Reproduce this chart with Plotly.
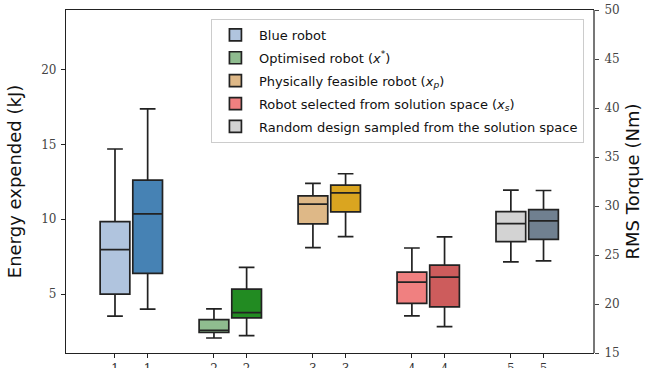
import plotly.graph_objects as go

# ---- data ----
groups = [1, 2, 3, 4, 5]
group_labels = ["1", "2", "3", "4", "5"]
series_names = [
    "Blue robot",
    "Optimised robot (<i>x</i><sup>*</sup>)",
    "Physically feasible robot (<i>x<sub>p</sub></i>)",
    "Robot selected from solution space (<i>x<sub>s</sub></i>)",
    "Random design sampled from the solution space",
]
light_colors = ["#B0C4DE", "#8FBC8F", "#DEB887", "#F08080", "#D3D3D3"]
dark_colors = ["#4682B4", "#228B22", "#DAA520", "#CD5C5C", "#708090"]

# Energy expended (kJ) - left axis
energy_lo = [3.53, 2.07, 8.10, 3.55, 7.16]
energy_q1 = [5.00, 2.45, 9.69, 4.38, 8.50]
energy_med = [7.97, 2.59, 11.01, 5.80, 9.71]
energy_q3 = [9.84, 3.30, 11.56, 6.47, 10.51]
energy_hi = [14.69, 4.02, 12.39, 8.08, 11.94]

# RMS Torque (Nm) - right axis
torque_lo = [19.47, 16.78, 26.87, 17.70, 24.41]
torque_q1 = [23.12, 18.58, 29.40, 19.71, 26.60]
torque_med = [29.19, 19.13, 31.34, 22.75, 28.48]
torque_q3 = [32.64, 21.52, 32.13, 23.97, 29.63]
torque_hi = [39.91, 23.74, 33.29, 26.84, 31.58]

offset = 0.165
box_width = 0.30

fig = go.Figure()
tickvals, ticktext = [], []
for i, g in enumerate(groups):
    xl, xr = g - offset, g + offset
    tickvals += [xl, xr]
    ticktext += [group_labels[i], group_labels[i]]
    fig.add_trace(go.Box(
        x=[xl], q1=[energy_q1[i]], median=[energy_med[i]], q3=[energy_q3[i]],
        lowerfence=[energy_lo[i]], upperfence=[energy_hi[i]],
        name=series_names[i], legendgroup=f"g{i}", showlegend=True,
        fillcolor=light_colors[i], line=dict(color="#222222", width=1.7),
        width=box_width, whiskerwidth=0.53, boxpoints=False, hoverinfo="skip",
        yaxis="y",
    ))
    fig.add_trace(go.Box(
        x=[xr], q1=[torque_q1[i]], median=[torque_med[i]], q3=[torque_q3[i]],
        lowerfence=[torque_lo[i]], upperfence=[torque_hi[i]],
        name=series_names[i] + " torque", legendgroup=f"g{i}", showlegend=False,
        fillcolor=dark_colors[i], line=dict(color="#222222", width=1.7),
        width=box_width, whiskerwidth=0.53, boxpoints=False, hoverinfo="skip",
        yaxis="y2",
    ))

serif = "DejaVu Serif"
fig.update_layout(
    width=649, height=368,
    margin=dict(l=66, r=56, t=10, b=15, autoexpand=False),
    plot_bgcolor="white", paper_bgcolor="white",
    xaxis=dict(
        range=[0.34, 5.665], tickmode="array", tickvals=tickvals, ticktext=ticktext,
        ticks="outside", ticklen=4, tickcolor="#222222", showgrid=False, zeroline=False,
        showline=True, linecolor="#222222", linewidth=1.2, mirror=True,
        tickfont=dict(family=serif, size=12, color="#333333"),
        ticklabeloverflow="allow",
    ),
    yaxis=dict(
        range=[1.07, 23.97], tickvals=[5, 10, 15, 20], ticks="outside", ticklen=4,
        tickcolor="#222222", showgrid=False, zeroline=False,
        showline=True, linecolor="#222222", linewidth=1.2, mirror=True,
        tickfont=dict(family=serif, size=12, color="#444444"),
        ticklabelstandoff=2, ticklabeloverflow="allow",
        title=dict(text="Energy expended (kJ)", standoff=14,
                   font=dict(family="DejaVu Sans", size=18, color="#111111")),
    ),
    yaxis2=dict(
        range=[15, 50], tickvals=[15, 20, 25, 30, 35, 40, 45, 50], overlaying="y", side="right",
        ticks="outside", ticklen=4, tickcolor="#444444", showgrid=False, zeroline=False,
        showline=True, linecolor="#777777", linewidth=2,
        tickfont=dict(family=serif, size=12, color="#444444"),
        ticklabelstandoff=3, ticklabeloverflow="allow",
        title=dict(text="RMS Torque (Nm)", standoff=8,
                   font=dict(family="DejaVu Sans", size=18, color="#111111")),
    ),
    legend=dict(
        x=0.275, y=0.974, xanchor="left", yanchor="top",
        bgcolor="rgba(255,255,255,0.9)", bordercolor="#cccccc", borderwidth=1,
        font=dict(family="DejaVu Sans", size=13, color="#111111"),
        tracegroupgap=3, itemwidth=37,
    ),
    showlegend=True,
)

# remove the default 8px page margin so the figure fills the window exactly
fig.write_html(
    "out.html",
    config={"displayModeBar": False},
    post_script="document.body.style.margin='0px';",
)
